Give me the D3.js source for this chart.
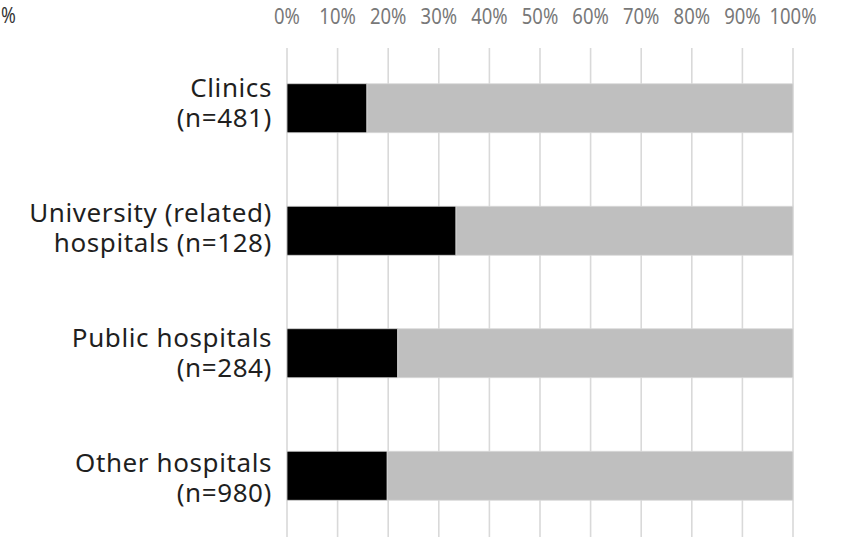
<!DOCTYPE html>
<html>
<head>
<meta charset="utf-8">
<script src="https://cdn.jsdelivr.net/npm/d3@7"></script>
<style>
  html, body { margin: 0; padding: 0; background: #fff; }
  svg { display: block; font-family: "Noto Sans", "Noto Sans CJK JP", sans-serif; }
</style>
</head>
<body>
<svg id="chart" width="851" height="539"></svg>
<script>
// Facility types, each label split over two lines
const categories = [
  ["Clinics", "(n=481)"],
  ["University (related)", "hospitals (n=128)"],
  ["Public hospitals", "(n=284)"],
  ["Other hospitals", "(n=980)"]
];
// Share in the first (black) segment, percent
const blackShare = [15.8, 33.4, 21.9, 19.8];
// Remaining share (grey segment), percent
const greyShare = [84.2, 66.6, 78.1, 80.2];
const tickValues = [0, 10, 20, 30, 40, 50, 60, 70, 80, 90, 100];

const svg = d3.select("#chart");
const margin = { left: 287, right: 58, top: 48, bottom: 2 };
const W = 851, H = 539;

const x = d3.scaleLinear().domain([0, 100]).range([margin.left, W - margin.right]);
const y = d3.scaleBand()
  .domain(d3.range(categories.length))
  .range([margin.top - 1, H - margin.bottom])
  .paddingInner(0.6)
  .paddingOuter(0.3);
// Baseline of the first label line for each category
const yLabel = d3.scalePoint()
  .domain(d3.range(categories.length))
  .range([97, 472]);

// Vertical gridlines
svg.append("g")
  .selectAll("line")
  .data(tickValues)
  .join("line")
  .attr("x1", d => x(d)).attr("x2", d => x(d))
  .attr("y1", margin.top).attr("y2", H - 2)
  .attr("stroke", "#d9d9d9")
  .attr("stroke-width", 1.6);

// Top axis labels (narrowed glyphs)
const axis = svg.append("g")
  .call(d3.axisTop(x).tickValues(tickValues).tickFormat(d => d + "%").tickSize(0).tickPadding(0));
axis.select(".domain").remove();
axis.selectAll(".tick")
  .attr("transform", d => `translate(${x(d)},24) scale(0.88,1)`);
axis.selectAll("text")
  .attr("y", 0)
  .attr("dy", 0)
  .attr("font-family", "\"Noto Sans\", \"Noto Sans CJK JP\", sans-serif")
  .attr("font-size", 21)
  .attr("fill", "#787878");

// Unit label
svg.append("text")
  .attr("transform", "translate(1,23) scale(0.85,1)")
  .style("font-size", "21px")
  .attr("fill", "#333")
  .text("%");

// Stacked bars
const stacked = categories.map((c, i) => ({ i, a: blackShare[i], b: greyShare[i] }));
const bars = svg.append("g");
bars.selectAll("rect.black")
  .data(stacked)
  .join("rect")
  .attr("class", "black")
  .attr("x", d => x(0))
  .attr("y", d => y(d.i))
  .attr("width", d => x(d.a) - x(0))
  .attr("height", y.bandwidth())
  .attr("fill", "#000")
  .attr("stroke", "#d0d0d0").attr("stroke-width", 0.8);
bars.selectAll("rect.grey")
  .data(stacked)
  .join("rect")
  .attr("class", "grey")
  .attr("x", d => x(d.a))
  .attr("y", d => y(d.i))
  .attr("width", d => x(d.a + d.b) - x(d.a))
  .attr("height", y.bandwidth())
  .attr("fill", "#bfbfbf")
  .attr("stroke", "#d9d9d9").attr("stroke-width", 0.8);

// Category labels, right-aligned, two lines
const labels = svg.append("g");
categories.forEach((lines, i) => {
  const t = labels.append("text")
    .attr("text-anchor", "end")
    .attr("font-size", 26)
    .attr("letter-spacing", 0.6)
    .attr("fill", "#1f1f1f");
  lines.forEach((ln, k) => {
    t.append("tspan")
      .attr("x", 272)
      .attr("y", yLabel(i) + k * 29.5)
      .text(ln);
  });
});
</script>
</body>
</html>
